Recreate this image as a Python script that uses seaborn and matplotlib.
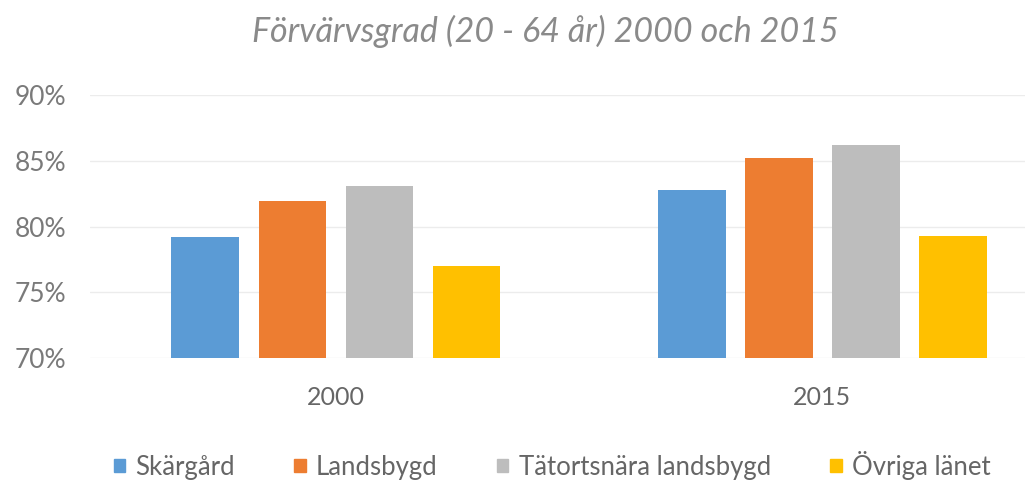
import seaborn as sns
import matplotlib.pyplot as plt
import pandas as pd
from matplotlib.ticker import PercentFormatter

years = ['2000', '2015']
regions = ['Skärgård', 'Landsbygd', 'Tätortsnära landsbygd', 'Övriga länet']
vals_2000 = [79.2, 81.9, 83.1, 77.0]
vals_2015 = [82.8, 85.2, 86.2, 79.3]
colors = ['#5B9BD5', '#ED7D31', '#BDBDBD', '#FFC000']

df = pd.DataFrame({
    'year': [years[0]] * 4 + [years[1]] * 4,
    'region': regions + regions,
    'value': vals_2000 + vals_2015,
})

sns.set_theme(style='white')
plt.rcParams['font.family'] = ['Lato', 'DejaVu Sans']

fig = plt.figure(figsize=(10.28, 4.83), dpi=100)
ax = fig.add_axes([0.0875, 0.258, 0.91, 0.546])

sns.barplot(data=df, x='year', y='value', hue='region', hue_order=regions,
            palette=colors, width=0.716, gap=0.22, ax=ax, saturation=1,
            linewidth=0)

ax.set_ylim(70, 90)
ax.set_xlim(-0.506, 1.418)
ax.set_yticks([70, 75, 80, 85, 90])
ax.yaxis.set_major_formatter(PercentFormatter(decimals=0))
ax.grid(axis='y', color='#ececec', linewidth=1)
ax.set_axisbelow(True)
for s in ax.spines.values():
    s.set_visible(False)
ax.set_xlabel('')
ax.set_ylabel('')
ax.tick_params(axis='y', length=0, pad=17, labelsize=19, labelcolor='#7a7a7a')
ax.tick_params(axis='x', length=0, pad=20, labelsize=18, labelcolor='#666666')

ax.get_legend().remove()
handles = [plt.Rectangle((0, 0), 1, 1, color=c) for c in colors]
fig.legend(handles, regions, loc='center', bbox_to_anchor=(0.537, 0.037),
           ncol=4, frameon=False, fontsize=18.5, handlelength=0.45,
           handleheight=0.45, handletextpad=0.4, columnspacing=2.3,
           labelcolor='#666666')

fig.text(0.531, 0.934, 'Förvärvsgrad (20 - 64 år) 2000 och 2015',
         ha='center', va='center', fontsize=24.5, style='italic',
         color='#8a8a8a')

fig.savefig('out.png', dpi=100)
